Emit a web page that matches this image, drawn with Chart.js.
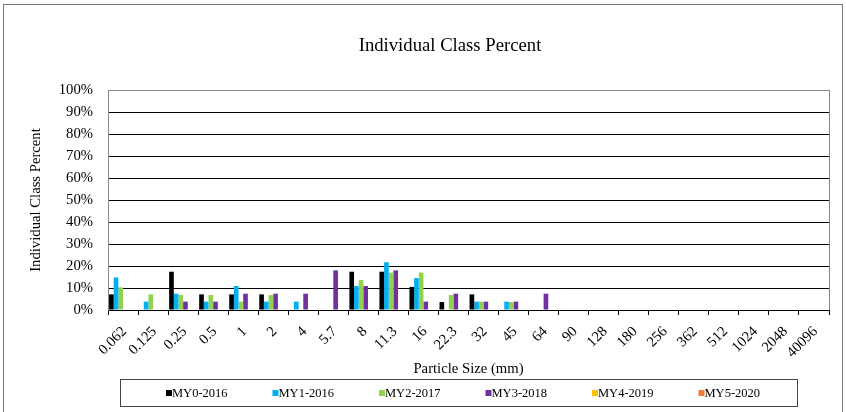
<!DOCTYPE html>
<html>
<head>
<meta charset="utf-8">
<script src="https://cdn.jsdelivr.net/npm/chart.js@4/dist/chart.umd.min.js"></script>
<style>
  html, body { margin: 0; padding: 0; background: #fff; }
  #wrap { width: 846px; height: 412px; }
</style>
</head>
<body>
<div id="wrap"><canvas id="classChart" width="846" height="412"></canvas></div>
<script>
// particle size classes (mm)
const sizeClasses = ['0.062', '0.125', '0.25', '0.5', '1', '2', '4', '5.7', '8', '11.3', '16', '22.3',
    '32', '45', '64', '90', '128', '180', '256', '362', '512', '1024', '2048', '40096'];

// percent per class
const my0_2016 = [7.1, 0, 17.4, 7.1, 7.1, 7.1, 0, 0, 17.4, 17.4, 10.5, 3.6, 7.1, 0, 0, 0, 0, 0, 0, 0, 0, 0, 0, 0];
const my1_2016 = [14.8, 3.8, 7.4, 3.8, 10.9, 3.8, 3.8, 0, 10.9, 21.7, 14.5, 0, 3.8, 3.8, 0, 0, 0, 0, 0, 0, 0, 0, 0, 0];
const my2_2017 = [10.3, 7.1, 6.8, 6.8, 3.8, 6.8, 0, 0, 13.6, 17.0, 17.0, 6.8, 3.8, 3.6, 0, 0, 0, 0, 0, 0, 0, 0, 0, 0];
const my3_2018 = [0, 0, 3.8, 3.8, 7.4, 7.4, 7.4, 18.0, 10.9, 18.0, 3.8, 7.4, 3.8, 3.8, 7.4, 0, 0, 0, 0, 0, 0, 0, 0, 0];
const my4_2019 = [0, 0, 0, 0, 0, 0, 0, 0, 0, 0, 0, 0, 0, 0, 0, 0, 0, 0, 0, 0, 0, 0, 0, 0];
const my5_2020 = [0, 0, 0, 0, 0, 0, 0, 0, 0, 0, 0, 0, 0, 0, 0, 0, 0, 0, 0, 0, 0, 0, 0, 0];

const seriesNames = ['MY0-2016', 'MY1-2016', 'MY2-2017', 'MY3-2018', 'MY4-2019', 'MY5-2020'];
const seriesColors = ['#000000', '#00B0F0', '#92D050', '#7030A0', '#FFC000', '#ED7D31'];
const seriesData = [my0_2016, my1_2016, my2_2017, my3_2018, my4_2019, my5_2020];

const serif = '"Liberation Serif", "Times New Roman", serif';

// outer frame, title, right border and boxed legend
const decorations = {
    id: 'decorations',
    beforeDraw(chart) {
        const ctx = chart.ctx;
        ctx.save();
        ctx.fillStyle = '#fff';
        ctx.fillRect(0, 0, chart.width, chart.height);
        ctx.strokeStyle = '#777';
        ctx.lineWidth = 1;
        ctx.strokeRect(3.5, 4.5, 839, 420);
        ctx.restore();
    },
    afterDraw(chart) {
        const ctx = chart.ctx;
        const area = chart.chartArea;
        ctx.save();
        // right edge of the plot area
        ctx.strokeStyle = '#888';
        ctx.lineWidth = 1;
        ctx.beginPath();
        ctx.moveTo(Math.round(area.right) + 0.5, area.top);
        ctx.lineTo(Math.round(area.right) + 0.5, area.bottom);
        ctx.stroke();

        // title
        ctx.fillStyle = '#000';
        ctx.font = '18.7px ' + serif;
        ctx.textAlign = 'center';
        ctx.textBaseline = 'middle';
        ctx.fillText('Individual Class Percent', 450, 46);

        // legend box
        ctx.strokeStyle = '#444';
        ctx.strokeRect(120.5, 379.5, 677, 27);
        ctx.font = '12.5px ' + serif;
        ctx.textAlign = 'left';
        seriesNames.forEach((name, i) => {
            const x = 166 + i * 106.5;
            ctx.fillStyle = seriesColors[i];
            ctx.fillRect(x, 390, 6, 6);
            ctx.fillStyle = '#000';
            ctx.fillText(name, x + 6, 393.5);
        });
        ctx.restore();
    }
};

const ctx = document.getElementById('classChart').getContext('2d');
const chart = new Chart(ctx, {
    type: 'bar',
    data: {
        labels: sizeClasses,
        datasets: seriesData.map((values, i) => ({
            label: seriesNames[i],
            data: values,
            backgroundColor: seriesColors[i],
            borderWidth: 0,
            categoryPercentage: 0.93,
            barPercentage: 1.0
        }))
    },
    options: {
        responsive: false,
        animation: false,
        layout: { padding: { left: 23, right: 17, top: 90, bottom: 30 } },
        plugins: {
            legend: { display: false },
            title: { display: false },
            tooltip: { enabled: false }
        },
        scales: {
            x: {
                afterFit(scale) { scale.height = 72; },
                grid: {
                    drawOnChartArea: false,
                    drawTicks: true,
                    tickLength: 5,
                    color: '#000',
                    offset: true
                },
                border: { color: '#000', width: 1 },
                ticks: {
                    autoSkip: false,
                    minRotation: 45,
                    maxRotation: 45,
                    padding: 8,
                    labelOffset: 1.5,
                    color: '#000',
                    font: { family: serif, size: 14.7 }
                },
                title: {
                    display: true,
                    text: 'Particle Size (mm)',
                    color: '#000',
                    font: { family: serif, size: 14.7 }
                }
            },
            y: {
                min: 0,
                max: 100,
                afterFit(scale) { scale.width = 85; },
                grid: {
                    drawTicks: false,
                    color: (c) => (c.tick && c.tick.value === 100 ? '#888' : '#000'),
                    lineWidth: 1
                },
                border: { color: '#888', width: 1 },
                ticks: {
                    stepSize: 10,
                    padding: 15,
                    color: '#000',
                    font: { family: serif, size: 14.7 },
                    callback: (v) => v + '%'
                },
                title: {
                    display: true,
                    text: 'Individual Class Percent',
                    color: '#000',
                    font: { family: serif, size: 14.7 }
                }
            }
        }
    },
    plugins: [decorations]
});
</script>
</body>
</html>
